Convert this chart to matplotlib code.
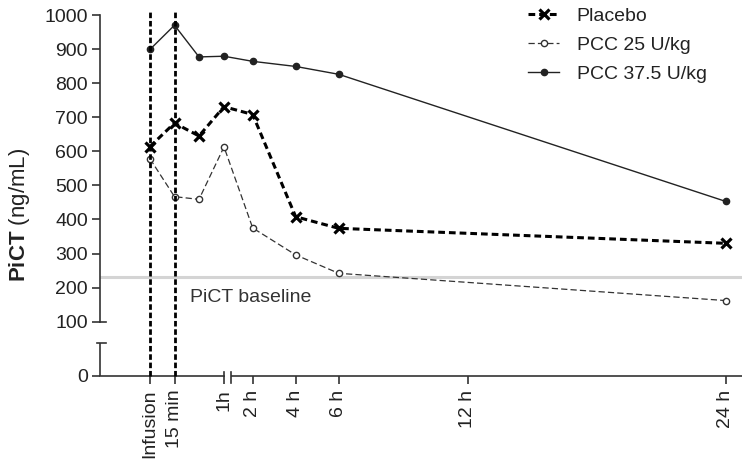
import numpy as np
import matplotlib
matplotlib.use("Agg")
import matplotlib.pyplot as plt
from matplotlib.scale import FuncScale

plt.rcParams['font.family'] = ['Liberation Sans', 'DejaVu Sans']
plt.rcParams['mathtext.fontset'] = 'custom'
plt.rcParams['mathtext.rm'] = 'Liberation Sans'
plt.rcParams['mathtext.bf'] = 'Liberation Sans:bold'

# ---- data ----
times_h = [0, 0.25, 0.5, 1, 2, 4, 6, 24]          # Infusion, 15 min, 30 min, 1h, 2h, 4h, 6h, 24h
placebo = [614, 683, 645, 731, 708, 408, 374, 330]
pcc25 = [578, 467, 459, 613, 375, 296, 242, 162]
pcc375 = [899, 970, 877, 879, 864, 849, 826, 453]
series_labels = ['Placebo', 'PCC 25 U/kg', 'PCC 37.5 U/kg']
xtick_vals = [0, 0.25, 1, 2, 4, 6, 12, 24]
xtick_labels = ['Infusion', '15 min', '1h', '2 h', '4 h', '6 h', '12 h', '24 h']
ytick_vals = [0, 100, 200, 300, 400, 500, 600, 700, 800, 900, 1000]
baseline = 232
infusion_marks = [0, 0.25]

# ---- piecewise (broken) scales ----
def pw(x, xk, yk):
    x = np.asarray(x, float)
    y = np.interp(x, xk, yk)
    s0 = (yk[1] - yk[0]) / (xk[1] - xk[0])
    s1 = (yk[-1] - yk[-2]) / (xk[-1] - xk[-2])
    y = np.where(x < xk[0], yk[0] + (x - xk[0]) * s0, y)
    y = np.where(x > xk[-1], yk[-1] + (x - xk[-1]) * s1, y)
    return y

XK = [0, 0.25, 0.5, 1, 2, 24]
XP = [50, 74.5, 99, 124, 152.7, 152.7 + 22 * 21.5]
YK = [0, 100, 1000]
YP = [0, 54.3, 361.0]

fx = lambda t: pw(t, XK, XP)
ifx = lambda p: pw(p, XP, XK)
fy = lambda v: pw(v, YK, YP)
ify = lambda p: pw(p, YP, YK)

W, H = 742, 466
fig = plt.figure(figsize=(W / 100, H / 100), dpi=100)
ax_w, ax_h = 642, 366
ax = fig.add_axes([100 / W, 90 / H, ax_w / W, ax_h / H])
ax.set_xscale(FuncScale(ax, (fx, ifx)))
ax.set_yscale(FuncScale(ax, (fy, ify)))
xl = (float(ifx(0)), float(ifx(ax_w)))
yl = (0, float(ify(ax_h)))
ax.set_xlim(*xl)
ax.set_ylim(*yl)

axc = '#333333'
# spines
for s in ['top', 'right']:
    ax.spines[s].set_visible(False)
ax.spines['left'].set_bounds(100, 1000)
ax.spines['bottom'].set_bounds(xl[0], 1)
for s in ['left', 'bottom']:
    ax.spines[s].set_color(axc)
    ax.spines[s].set_linewidth(1.2)

# lower left spine piece and caps
low_top = float(ify(33))
ax.plot([xl[0], xl[0]], [0, low_top], color=axc, lw=1.2, clip_on=False, solid_capstyle='butt')
ytr = ax.get_yaxis_transform()
ax.plot([-3 / ax_w, 6 / ax_w], [low_top, low_top], color=axc, lw=1.2, transform=ytr, clip_on=False)
ax.plot([0, 6 / ax_w], [100, 100], color=axc, lw=1.2, transform=ytr, clip_on=False)
# right bottom piece and break caps
right_start = float(ifx(131))
ax.plot([right_start, xl[1]], [0, 0], color=axc, lw=1.2, clip_on=False, solid_capstyle='butt')
xtr = ax.get_xaxis_transform()
ax.plot([1, 1], [0, 4.5 / ax_h], color=axc, lw=1.2, transform=xtr, clip_on=False)
ax.plot([right_start, right_start], [-7 / ax_h, 4.5 / ax_h], color=axc, lw=1.2, transform=xtr, clip_on=False)

# ticks
ax.set_xticks(xtick_vals)
ax.set_xticklabels(xtick_labels, rotation=90)
ax.set_yticks(ytick_vals)
ax.set_yticklabels([str(v) for v in ytick_vals])
ax.tick_params(axis='both', length=5.8, width=1.2, color=axc, labelsize=14, labelcolor='#222222')
ax.tick_params(axis='x', pad=4)
ax.tick_params(axis='y', pad=3)
ax.minorticks_off()

# baseline
ax.axhline(baseline, color='#d4d4d4', lw=2.2, zorder=1)
ax.text(90 / ax_w, 172, 'PiCT baseline', transform=ytr, fontsize=14, color='#333333',
        ha='left', va='center')

# vertical infusion lines
for xm in infusion_marks:
    ax.plot([xm, xm], [0, yl[1]], color='black', lw=2.0, ls=(0, (2, 1)), zorder=5, clip_on=False)

# series
ax.plot(times_h, placebo, color='black', lw=2.2, ls=(0, (2.2, 1.3)), marker='x', ms=7,
        mew=2.3, label=series_labels[0], zorder=4, clip_on=False)
ax.plot(times_h, pcc25, color='#333333', lw=0.9, ls=(0, (5, 2.5)), marker='o', ms=4.5,
        mfc='white', mec='#333333', mew=1.0, label=series_labels[1], zorder=3, clip_on=False)
ax.plot(times_h, pcc375, color='#222222', lw=1.0, ls='-', marker='o', ms=4.5,
        mfc='#222222', mec='#222222', label=series_labels[2], zorder=3, clip_on=False)

leg = fig.legend(loc='upper left', bbox_to_anchor=(528 / W, 1 - 7 / H), frameon=False,
                 fontsize=14, handlelength=1.6, handletextpad=0.9, labelspacing=0.6,
                 borderpad=0, borderaxespad=0, numpoints=1)
for t in leg.get_texts():
    t.set_color('#222222')

fig.text(20 / W, 1 - 215 / H, r'$\mathbf{PiCT}$ (ng/mL)', rotation=90, fontsize=16,
         ha='center', va='center', color='#222222')

fig.savefig('out.png', dpi=100)
